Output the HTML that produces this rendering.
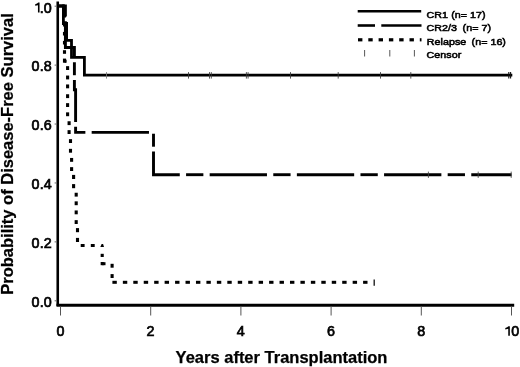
<!DOCTYPE html>
<html><head><meta charset="utf-8"><style>
html,body{margin:0;padding:0;background:#fff;}
body{width:520px;height:367px;overflow:hidden;}
svg{display:block;filter:grayscale(1);}
text{font-family:"Liberation Sans",sans-serif;fill:#000;}
.tk{font-size:14.3px;stroke:#000;stroke-width:0.7px;letter-spacing:0.2px;}
.ttl{font-size:16.5px;font-weight:bold;stroke:#000;stroke-width:0.25px;}
.lg{font-size:9.6px;stroke:#000;stroke-width:0.55px;}
.lgp{letter-spacing:0.2px !important;}
.lgb{font-size:10.2px;font-weight:bold;letter-spacing:0.05px;}
</style></head><body>
<svg width="520" height="367" viewBox="0 0 520 367">
<line x1="57.75" y1="1.6" x2="57.75" y2="306" stroke="#000" stroke-width="2.6"/>
<line x1="56.5" y1="305.2" x2="514.2" y2="305.2" stroke="#000" stroke-width="2.9"/>
<line x1="54.6" y1="6.2" x2="56.5" y2="6.2" stroke="#666" stroke-width="1"/>
<line x1="54.6" y1="65.12" x2="56.5" y2="65.12" stroke="#666" stroke-width="1"/>
<line x1="54.6" y1="124.04" x2="56.5" y2="124.04" stroke="#666" stroke-width="1"/>
<line x1="54.6" y1="182.95999999999998" x2="56.5" y2="182.95999999999998" stroke="#666" stroke-width="1"/>
<line x1="54.6" y1="241.88" x2="56.5" y2="241.88" stroke="#666" stroke-width="1"/>
<line x1="54.6" y1="300.8" x2="56.5" y2="300.8" stroke="#666" stroke-width="1"/>
<line x1="60.50" y1="306.5" x2="60.50" y2="315.5" stroke="#555" stroke-width="1"/>
<line x1="150.70" y1="306.5" x2="150.70" y2="315.5" stroke="#555" stroke-width="1"/>
<line x1="240.90" y1="306.5" x2="240.90" y2="315.5" stroke="#555" stroke-width="1"/>
<line x1="331.10" y1="306.5" x2="331.10" y2="315.5" stroke="#555" stroke-width="1"/>
<line x1="421.30" y1="306.5" x2="421.30" y2="315.5" stroke="#555" stroke-width="1"/>
<line x1="511.50" y1="306.5" x2="511.50" y2="315.5" stroke="#555" stroke-width="1"/>
<path d="M58.90,6.00 L63.40,6.00 L63.40,23.50 L66.60,23.50 L66.60,40.30 L71.50,40.30 L71.50,57.30 L84.40,57.30 L84.40,75.20 L512.30,75.20" fill="none" stroke="#000" stroke-width="2.8" stroke-linejoin="miter"/>
<path d="M62.20,6.00 L65.40,6.00 L65.40,16.57" fill="none" stroke="#000" stroke-width="2.9"/>
<path d="M65.40,21.30 L65.40,47.50 L74.40,47.50 L74.40,57.52" fill="none" stroke="#000" stroke-width="2.9"/>
<path d="M74.40,62.25 L74.40,75.22" fill="none" stroke="#000" stroke-width="2.9"/>
<path d="M74.40,79.95 L74.40,89.80 L75.60,89.80 L75.60,122.03" fill="none" stroke="#000" stroke-width="2.9"/>
<path d="M75.60,126.75 L75.60,132.40 L85.37,132.40" fill="none" stroke="#000" stroke-width="2.9"/>
<path d="M91.67,132.40 L148.97,132.40" fill="none" stroke="#000" stroke-width="2.9"/>
<path d="M153.50,133.72 L153.50,146.70" fill="none" stroke="#000" stroke-width="2.9"/>
<path d="M153.50,151.43 L153.50,174.70 L179.77,174.70" fill="none" stroke="#000" stroke-width="2.9"/>
<path d="M186.07,174.70 L203.37,174.70" fill="none" stroke="#000" stroke-width="2.9"/>
<path d="M209.67,174.70 L266.97,174.70" fill="none" stroke="#000" stroke-width="2.9"/>
<path d="M273.27,174.70 L290.57,174.70" fill="none" stroke="#000" stroke-width="2.9"/>
<path d="M296.87,174.70 L354.17,174.70" fill="none" stroke="#000" stroke-width="2.9"/>
<path d="M360.47,174.70 L377.77,174.70" fill="none" stroke="#000" stroke-width="2.9"/>
<path d="M384.07,174.70 L441.37,174.70" fill="none" stroke="#000" stroke-width="2.9"/>
<path d="M447.67,174.70 L464.97,174.70" fill="none" stroke="#000" stroke-width="2.9"/>
<path d="M471.27,174.70 L511.60,174.70" fill="none" stroke="#000" stroke-width="2.9"/>
<rect x="58.90" y="4.50" width="5.60" height="3.00"/>
<rect x="62.95" y="13.90" width="3.10" height="3.60"/>
<rect x="62.95" y="22.90" width="3.10" height="3.60"/>
<rect x="62.95" y="31.90" width="3.10" height="3.60"/>
<rect x="62.95" y="40.90" width="3.10" height="3.60"/>
<rect x="62.95" y="50.20" width="3.10" height="3.60"/>
<rect x="62.95" y="58.60" width="3.10" height="4.10"/>
<rect x="64.50" y="59.70" width="2.10" height="3.00"/>
<rect x="66.05" y="66.15" width="3.10" height="3.85"/>
<rect x="66.05" y="75.55" width="3.10" height="3.85"/>
<rect x="66.05" y="84.45" width="3.10" height="3.85"/>
<rect x="66.05" y="94.25" width="3.10" height="3.85"/>
<rect x="66.05" y="103.15" width="3.10" height="3.85"/>
<rect x="66.05" y="112.35" width="3.10" height="3.85"/>
<rect x="67.55" y="121.25" width="3.10" height="3.85"/>
<rect x="67.55" y="130.15" width="3.10" height="3.85"/>
<rect x="68.95" y="139.15" width="3.10" height="3.85"/>
<rect x="68.95" y="148.85" width="3.10" height="3.85"/>
<rect x="70.05" y="157.95" width="3.10" height="3.85"/>
<rect x="70.05" y="167.15" width="3.10" height="3.85"/>
<rect x="72.05" y="174.90" width="3.10" height="4.10"/>
<rect x="72.05" y="184.10" width="3.10" height="4.10"/>
<rect x="74.65" y="192.75" width="3.10" height="3.85"/>
<rect x="74.65" y="201.35" width="3.10" height="3.85"/>
<rect x="74.65" y="210.45" width="3.10" height="3.85"/>
<rect x="74.65" y="220.15" width="3.10" height="3.85"/>
<rect x="75.95" y="228.10" width="3.10" height="4.10"/>
<rect x="75.95" y="237.90" width="3.10" height="4.10"/>
<rect x="80.70" y="244.00" width="3.90" height="3.00"/>
<rect x="90.80" y="244.00" width="3.90" height="3.00"/>
<polygon points="100.3,247.1 104.0,247.1 103.1,243.9 101.6,243.9"/>
<rect x="100.65" y="253.80" width="3.10" height="3.20"/>
<rect x="100.65" y="262.00" width="3.10" height="3.20"/>
<rect x="102.20" y="262.20" width="3.30" height="3.00"/>
<rect x="110.55" y="263.80" width="3.10" height="3.90"/>
<rect x="110.55" y="274.10" width="3.10" height="3.90"/>
<rect x="112.40" y="280.80" width="4.40" height="3.00"/>
<rect x="122.85" y="280.80" width="4.40" height="3.00"/>
<rect x="133.29" y="280.80" width="4.40" height="3.00"/>
<rect x="143.74" y="280.80" width="4.40" height="3.00"/>
<rect x="154.18" y="280.80" width="4.40" height="3.00"/>
<rect x="164.63" y="280.80" width="4.40" height="3.00"/>
<rect x="175.08" y="280.80" width="4.40" height="3.00"/>
<rect x="185.52" y="280.80" width="4.40" height="3.00"/>
<rect x="195.97" y="280.80" width="4.40" height="3.00"/>
<rect x="206.41" y="280.80" width="4.40" height="3.00"/>
<rect x="216.86" y="280.80" width="4.40" height="3.00"/>
<rect x="227.31" y="280.80" width="4.40" height="3.00"/>
<rect x="237.75" y="280.80" width="4.40" height="3.00"/>
<rect x="248.20" y="280.80" width="4.40" height="3.00"/>
<rect x="258.64" y="280.80" width="4.40" height="3.00"/>
<rect x="269.09" y="280.80" width="4.40" height="3.00"/>
<rect x="279.54" y="280.80" width="4.40" height="3.00"/>
<rect x="289.98" y="280.80" width="4.40" height="3.00"/>
<rect x="300.43" y="280.80" width="4.40" height="3.00"/>
<rect x="310.87" y="280.80" width="4.40" height="3.00"/>
<rect x="321.32" y="280.80" width="4.40" height="3.00"/>
<rect x="331.77" y="280.80" width="4.40" height="3.00"/>
<rect x="342.21" y="280.80" width="4.40" height="3.00"/>
<rect x="352.66" y="280.80" width="4.40" height="3.00"/>
<rect x="363.10" y="280.80" width="4.40" height="3.00"/>
<line x1="106.5" y1="72.1" x2="106.5" y2="78.6" stroke="#777" stroke-width="0.85"/>
<line x1="188.5" y1="72.1" x2="188.5" y2="78.6" stroke="#3a3a3a" stroke-width="0.85"/>
<line x1="209.5" y1="72.1" x2="209.5" y2="78.6" stroke="#3a3a3a" stroke-width="0.85"/>
<line x1="211.3" y1="72.1" x2="211.3" y2="78.6" stroke="#3a3a3a" stroke-width="0.85"/>
<line x1="246.4" y1="72.1" x2="246.4" y2="78.6" stroke="#3a3a3a" stroke-width="0.85"/>
<line x1="248.1" y1="72.1" x2="248.1" y2="78.6" stroke="#3a3a3a" stroke-width="0.85"/>
<line x1="290.5" y1="72.1" x2="290.5" y2="78.6" stroke="#3a3a3a" stroke-width="0.85"/>
<line x1="338.2" y1="72.1" x2="338.2" y2="78.6" stroke="#3a3a3a" stroke-width="0.85"/>
<line x1="380.5" y1="72.1" x2="380.5" y2="78.6" stroke="#3a3a3a" stroke-width="0.85"/>
<line x1="410.8" y1="72.1" x2="410.8" y2="78.6" stroke="#3a3a3a" stroke-width="0.85"/>
<line x1="508.8" y1="72.1" x2="508.8" y2="78.5" stroke="#111" stroke-width="1.1"/>
<line x1="510.6" y1="72.1" x2="510.6" y2="78.5" stroke="#111" stroke-width="1.1"/>
<line x1="428.4" y1="171.6" x2="428.4" y2="177.9" stroke="#444" stroke-width="0.85"/>
<line x1="478.2" y1="171.6" x2="478.2" y2="177.9" stroke="#444" stroke-width="0.85"/>
<line x1="511.2" y1="171.6" x2="511.2" y2="177.9" stroke="#444" stroke-width="0.85"/>
<line x1="374.2" y1="279.5" x2="374.2" y2="285.8" stroke="#111" stroke-width="1.3"/>
<line x1="357.7" y1="11.3" x2="421.2" y2="11.3" stroke="#000" stroke-width="2.6"/>
<path d="M357.70,25.50 L375.00,25.50" fill="none" stroke="#000" stroke-width="2.6"/>
<path d="M381.30,25.50 L421.50,25.50" fill="none" stroke="#000" stroke-width="2.6"/>
<path d="M358.00,39.80 L362.40,39.80" fill="none" stroke="#000" stroke-width="3.2"/>
<path d="M368.30,39.80 L372.70,39.80" fill="none" stroke="#000" stroke-width="3.2"/>
<path d="M378.60,39.80 L383.00,39.80" fill="none" stroke="#000" stroke-width="3.2"/>
<path d="M388.90,39.80 L393.30,39.80" fill="none" stroke="#000" stroke-width="3.2"/>
<path d="M399.20,39.80 L403.60,39.80" fill="none" stroke="#000" stroke-width="3.2"/>
<path d="M409.50,39.80 L413.90,39.80" fill="none" stroke="#000" stroke-width="3.2"/>
<path d="M419.80,39.80 L421.50,39.80" fill="none" stroke="#000" stroke-width="3.2"/>
<line x1="364.6" y1="50" x2="364.6" y2="56.5" stroke="#444" stroke-width="0.9"/>
<line x1="389.8" y1="50" x2="389.8" y2="56.5" stroke="#444" stroke-width="0.9"/>
<line x1="414.4" y1="50" x2="414.4" y2="56.5" stroke="#444" stroke-width="0.9"/>
<text x="52.0" y="12.50" text-anchor="end" class="tk">.0</text>
<path d="M39.55,2.6 L39.55,12.45 L37.95,12.45 L37.95,5.15 L35.2,5.75 L35.2,4.35 Q37.4,3.9 38.25,2.6 Z" fill="#000"/>
<text x="52.0" y="71.40" text-anchor="end" class="tk">0.8</text>
<text x="52.0" y="130.30" text-anchor="end" class="tk">0.6</text>
<text x="52.0" y="189.20" text-anchor="end" class="tk">0.4</text>
<text x="52.0" y="248.10" text-anchor="end" class="tk">0.2</text>
<text x="52.0" y="307.00" text-anchor="end" class="tk">0.0</text>
<text x="60.50" y="335.9" text-anchor="middle" class="tk">0</text>
<text x="150.70" y="335.9" text-anchor="middle" class="tk">2</text>
<text x="240.90" y="335.9" text-anchor="middle" class="tk">4</text>
<text x="331.10" y="335.9" text-anchor="middle" class="tk">6</text>
<text x="421.30" y="335.9" text-anchor="middle" class="tk">8</text>
<text x="511.3" y="335.9" class="tk">0</text>
<path d="M509.85,326.2 L509.85,335.8 L508.25,335.8 L508.25,328.7 L505.3,329.4 L505.3,328.0 Q507.5,327.5 508.45,326.2 Z" fill="#000"/>
<text x="281.5" y="363.0" text-anchor="middle" class="ttl">Years after Transplantation</text>
<text transform="translate(12.9,154) rotate(-90)" text-anchor="middle" class="ttl">Probability of Disease-Free Survival</text>
<text transform="translate(426.4,18.1) scale(1.12,1)" class="lg">CR1</text>
<text transform="translate(451.2,18.1) scale(1.12,1)" class="lg">(n= 17)</text>
<text transform="translate(426.4,31.0) scale(1.12,1)" class="lg">CR2/3</text>
<text transform="translate(462.6,31.0) scale(1.12,1)" class="lg">(n= 7)</text>
<text transform="translate(426.8,45.1) scale(1.12,1)" class="lg">Relapse</text>
<text transform="translate(471.6,45.1) scale(1.12,1)" class="lg">(n= 16)</text>
<text transform="translate(426.6,58.4) scale(1.12,1)" class="lg">Censor</text>
</svg>
</body></html>
